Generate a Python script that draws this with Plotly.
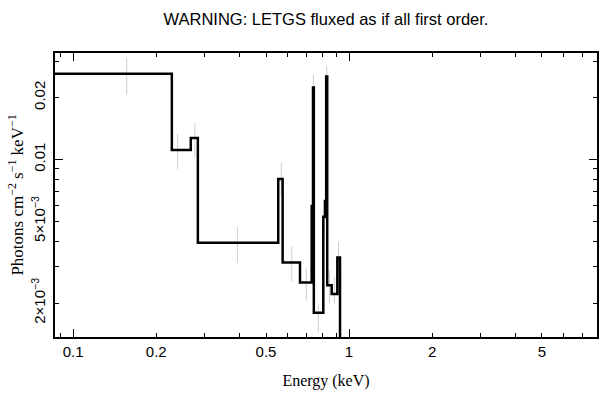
import plotly.graph_objects as go

# Spectrum bins (keV) and flux (photons cm^-2 s^-1 keV^-1)
bin_lo = [0.080, 0.2278, 0.2669, 0.2831, 0.5538, 0.5745, 0.6641, 0.7322, 0.7403,
          0.7454, 0.8067, 0.8182, 0.8264, 0.8335, 0.8654, 0.9069, 0.9275]
bin_hi = bin_lo[1:] + [1.0]
flux = [0.02612, 0.01113, 0.01273, 0.003927, 0.008035, 0.003150, 0.002518, 0.005932,
        0.02239, 0.001797, 0.005260, 0.006275, 0.02535, 0.002443, 0.002215, 0.003334, 1e-6]

# Error bars (gray vertical lines)
err_x = [0.1564, 0.2390, 0.2760, 0.3938, 0.5680, 0.6200, 0.7000, 0.7370, 0.7430,
         0.7740, 0.8120, 0.8220, 0.8300, 0.8490, 0.8850, 0.9160]
err_y = [0.02612, 0.01113, 0.01273, 0.003927, 0.008035, 0.003150, 0.002518, 0.005932,
         0.02239, 0.001797, 0.005260, 0.006275, 0.02535, 0.002443, 0.002215, 0.003334]
err_plus = [0.00515, 0.00219, 0.00234, 0.000774, 0.00162, 0.000635, 0.000448, 0.0012,
            0.00345, 0.000176, 0.0011, 0.0012, 0.00323, 0.000448, 0.000465, 0.000638]
err_minus = [0.00548, 0.00214, 0.00256, 0.00079, 0.00132, 0.000615, 0.000454, 0.0012,
             0.0034, 0.000352, 0.0011, 0.0012, 0.0032, 0.000448, 0.00022, 0.000443]

x_tick_vals = [0.1, 0.2, 0.5, 1, 2, 5]
x_tick_text = ["0.1", "0.2", "0.5", "1", "2", "5"]
x_minor = [0.09, 0.3, 0.4, 0.6, 0.7, 0.8, 0.9, 3, 4, 6, 7]
x_major_long = [0.1, 1]
y_tick_vals = [0.002, 0.005, 0.01, 0.02]
y_tick_text = ["2×10<sup>−3</sup>", "5×10<sup>−3</sup>", "0.01", "0.02"]
y_minor = [0.003, 0.004, 0.006, 0.007, 0.008, 0.009, 0.03]
y_major_long = [0.01]

title_text = "WARNING: LETGS fluxed as if all first order."
x_title = "Energy (keV)"
y_title = "Photons cm<sup>−2</sup> s<sup>−1</sup> keV<sup>−1</sup>"

x_range = [-1.066, 0.899]
y_range = [-2.864, -1.482]

fig = go.Figure()

fig.add_trace(go.Scatter(
    x=err_x, y=err_y, mode="markers",
    marker=dict(size=1, color="rgba(0,0,0,0)"),
    error_y=dict(type="data", symmetric=False, array=err_plus, arrayminus=err_minus,
                 width=0, thickness=1, color="#cfcfcf"),
    hoverinfo="skip", showlegend=False,
))

fig.add_trace(go.Scatter(
    x=bin_lo + [bin_hi[-1]], y=flux + [flux[-1]], mode="lines",
    line=dict(shape="hv", color="black", width=2.5),
    showlegend=False,
))

# invisible trace for the overlay axes (long major ticks)
fig.add_trace(go.Scatter(x=[1], y=[0.01], xaxis="x2", yaxis="y2", mode="markers",
                         marker=dict(size=1, color="rgba(0,0,0,0)"), showlegend=False,
                         hoverinfo="skip"))

tick_font = dict(family="Liberation Sans, Arial, sans-serif", size=15, color="black")
xtitle_font = dict(family="Liberation Serif, Times New Roman, serif", size=16, color="black")
ytitle_font = dict(family="Liberation Serif, Times New Roman, serif", size=17, color="black")

fig.update_layout(
    width=608, height=399,
    margin=dict(l=55, r=11, t=53, b=62),
    paper_bgcolor="white", plot_bgcolor="white",
    title=dict(text=title_text, x=(55 + 597) / 2 / 608, xanchor="center",
               y=1 - 19 / 399, yanchor="middle", yref="container",
               font=dict(family="Liberation Sans, Arial, sans-serif", size=16.5, color="black"),
               automargin=False),
    xaxis=dict(type="log", range=x_range, tickmode="array", tickvals=x_tick_vals,
               ticktext=x_tick_text, ticks="inside", ticklen=4, tickwidth=1, tickcolor="black",
               showline=True, linecolor="black", linewidth=2, mirror="ticks",
               showgrid=False, zeroline=False, tickfont=tick_font, automargin=False,
               minor=dict(tickmode="array", tickvals=x_minor, ticks="inside", ticklen=4,
                          tickwidth=1, tickcolor="black", showgrid=False),
               title=dict(text=x_title, font=xtitle_font, standoff=16)),
    yaxis=dict(type="log", range=y_range, tickmode="array", tickvals=y_tick_vals,
               ticktext=y_tick_text, ticks="inside", ticklen=4, tickwidth=1, tickcolor="black",
               tickangle=-90, showline=True, linecolor="black", linewidth=2, mirror="ticks",
               showgrid=False, zeroline=False, tickfont=tick_font, automargin=False,
               ticklabelstandoff=2,
               minor=dict(tickmode="array", tickvals=y_minor, ticks="inside", ticklen=4,
                          tickwidth=1, tickcolor="black", showgrid=False),
               title=dict(text=y_title, font=ytitle_font, standoff=1)),
    xaxis2=dict(type="log", range=x_range, overlaying="x", anchor="y", side="bottom",
                tickmode="array", tickvals=x_major_long, ticks="inside", ticklen=8,
                tickwidth=1, tickcolor="black", showticklabels=False, mirror="ticks",
                showline=False, showgrid=False, zeroline=False, automargin=False),
    yaxis2=dict(type="log", range=y_range, overlaying="y", anchor="x", side="left",
                tickmode="array", tickvals=y_major_long, ticks="inside", ticklen=8,
                tickwidth=1, tickcolor="black", showticklabels=False, mirror="ticks",
                showline=False, showgrid=False, zeroline=False, automargin=False),
)

fig.write_html("out.html", post_script="document.body.style.margin='0';",
               config={"displayModeBar": False})
